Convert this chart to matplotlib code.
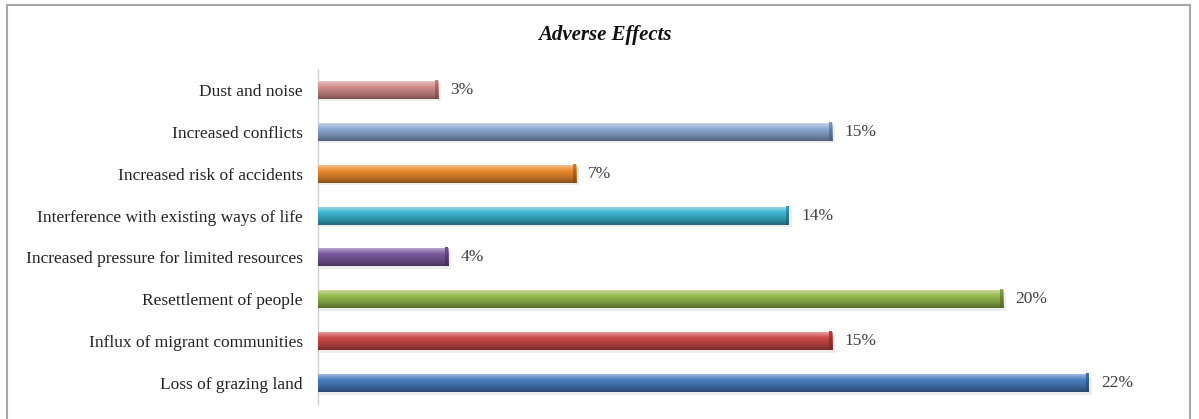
import numpy as np
import matplotlib
matplotlib.use("Agg")
import matplotlib.pyplot as plt
from matplotlib.colors import LinearSegmentedColormap, to_rgb
from matplotlib.patches import Rectangle

categories = [
    "Dust and noise",
    "Increased conflicts",
    "Increased risk of accidents",
    "Interference with existing ways of life",
    "Increased pressure for limited resources",
    "Resettlement of people",
    "Influx of migrant communities",
    "Loss of grazing land",
]
values = [3.47, 14.86, 7.46, 13.61, 3.76, 19.80, 14.86, 22.28]
bar_colors = ["#D48E8C", "#8EAAD2", "#EC8A2E", "#3BB3CF",
              "#7A5A9E", "#96BA4E", "#CD4A47", "#4A7EC0"]
title = "Adverse Effects"

plt.rcParams['font.family'] = ['Liberation Serif', 'DejaVu Serif']

fig = plt.figure(figsize=(11.99, 4.19), dpi=100)
fig.patch.set_facecolor("white")
W, H = 1199, 419
ax = fig.add_axes([318 / W, 1 - 404 / H, 865 / W, 335 / H])

def mix(c, t, target):
    c = np.array(to_rgb(c)); target = np.array(target)
    return tuple(c * (1 - t) + target * t)

bh = 0.43
ypos = np.arange(len(categories))
for y, v, c in zip(ypos, values, bar_colors):
    bars = ax.barh(y, v, height=bh, color=c, edgecolor="none", zorder=2)
    patch = bars[0]
    ax.barh(y + 0.06, v + 0.08, height=bh, color="#000000", alpha=0.07,
            edgecolor="none", zorder=1)
    cmap = LinearSegmentedColormap.from_list("g", [
        (0.0, mix(c, 0.55, (1, 1, 1))),
        (0.12, mix(c, 0.35, (1, 1, 1))),
        (0.35, to_rgb(c)),
        (0.75, mix(c, 0.22, (0, 0, 0))),
        (1.0, mix(c, 0.42, (0, 0, 0))),
    ])
    grad = np.linspace(0, 1, 64).reshape(-1, 1)
    im = ax.imshow(grad, cmap=cmap, aspect="auto",
                   extent=[0, v, y + bh / 2, y - bh / 2],
                   origin="upper", zorder=3, interpolation="bilinear")
    im.set_clip_path(patch)
    cap_w = 0.08
    capcmap = LinearSegmentedColormap.from_list("cap", [
        (0.0, mix(c, 0.1, (0, 0, 0))),
        (0.5, mix(c, 0.3, (0, 0, 0))),
        (1.0, mix(c, 0.45, (0, 0, 0))),
    ])
    ax.imshow(grad, cmap=capcmap, aspect="auto",
              extent=[v - cap_w, v, y + bh / 2, y - bh / 2],
              origin="upper", zorder=4, interpolation="bilinear")
    ax.text(v + 0.35, y, f"{v:.0f}%", va="center", ha="left",
            fontsize=12.5, color="#404040", zorder=5)

ax.set_xlim(0, 25)
ax.set_ylim(len(categories) - 0.5, -0.5)
ax.set_yticks(ypos)
ax.set_yticklabels(categories, fontsize=12.5, color="#222222")
ax.tick_params(axis="y", length=0, pad=11)
ax.set_xticks([])
for s in ["top", "right", "bottom"]:
    ax.spines[s].set_visible(False)
ax.spines["left"].set_color("#D0D0D0")
ax.spines["left"].set_linewidth(1.0)

fig.text(604.5 / W, 1 - 35 / H, title, ha="center", va="center",
         fontsize=15, fontweight="bold", fontstyle="italic", color="#111111")

border = Rectangle((7 / W, -0.02), (1190 - 7) / W, 1 - 5 / H + 0.02,
                   transform=fig.transFigure, fill=False,
                   edgecolor="#A8A8A8", linewidth=1.5)
fig.patches.append(border)

fig.savefig("out.png", dpi=100, facecolor="white")
